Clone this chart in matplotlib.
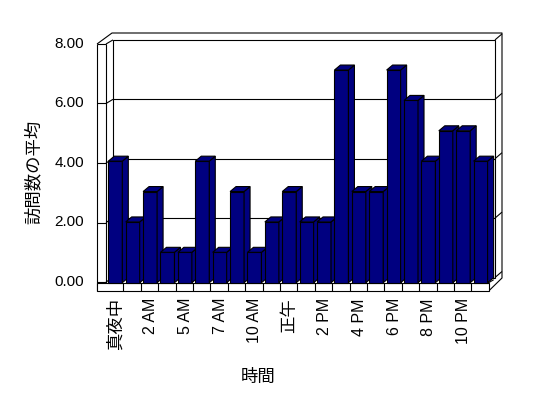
import matplotlib.pyplot as plt
from matplotlib.patches import Polygon, Rectangle

# 時間帯ごとの訪問数の平均
hours = ["真夜中", "1 AM", "2 AM", "4 AM", "5 AM", "6 AM", "7 AM", "9 AM",
         "10 AM", "11 AM", "正午", "1 PM", "2 PM", "3 PM", "4 PM", "5 PM",
         "6 PM", "7 PM", "8 PM", "9 PM", "10 PM", "11 PM"]
visits = [4, 2, 3, 1, 1, 4, 1, 3, 1, 2, 3, 2, 2, 7, 3, 3, 7, 6, 4, 5, 5, 4]
yticks = [0, 2, 4, 6, 8]

W, H = 548, 398
X0, SLOT = 106, 17.395      # left edge of the first category, px per category
Y0, UNIT = 282.7, 30.38     # baseline, px per unit (front plane of the bars)
navy = "#000080"
lw = 0.8

fig = plt.figure(figsize=(W / 100, H / 100), dpi=100)
n = len(visits)
ax = fig.add_axes([X0 / W, (H - Y0) / H, n * SLOT / W, 8 * UNIT / H])
ax.set_xlim(0, n)
ax.set_ylim(0, 8)
ax.axis("off")


def px_x(p):
    return (p - X0) / SLOT


def px_y(p):
    return (Y0 - p) / UNIT


def front(v):   # left wall front edge scale
    return px_y(282 - 29.75 * v)


def back(v):    # back wall scale
    return px_y(277.5 - 29.7 * v)


def line(xs, ys, z=1):
    ax.plot(xs, ys, color="black", lw=lw, clip_on=False, zorder=z,
            solid_capstyle="butt")


xo, xi, xb = px_x(97), px_x(106), px_x(113)
xr, xro = px_x(495), px_x(502)
top_o = px_y(33)
floor_bot = px_y(291)

# back wall with gridlines
ax.add_patch(Rectangle((xb, back(0)), xr - xb, back(8) - back(0), fc="white",
                       ec="black", lw=lw, clip_on=False, zorder=0.5))
for v in yticks[1:-1]:
    line([xb, xr], [back(v), back(v)])

# wall thickness: top and right side
line([xo, px_x(112), xro, xro, n], [front(8), top_o, top_o, px_y(278), floor_bot])
for v in yticks:
    line([xr, xro], [back(v), back(v) + 6 / UNIT])

# left wall
line([xo, xo], [front(8), floor_bot])
line([xi, xi], [front(8), 0])
for v in yticks:
    line([xo, xi], [front(v), front(v)])
    line([xi, xb], [front(v), back(v)])

# floor front face with category cells
ax.add_patch(Rectangle((xo, floor_bot), n - xo, -floor_bot, fc="white",
                       ec="black", lw=lw, clip_on=False, zorder=1))
for k in range(1, n):
    line([k, k], [floor_bot, 0], z=1.1)
line([n, n + 5 / SLOT], [0, 3 / UNIT], z=1.1)

# bars: front, side and top faces
off = px_x(108.3)
bw = 14 / SLOT
ddx, ddy = 6 / SLOT, 5 / UNIT
for k, v in enumerate(visits):
    x = k + off
    z = 2 + k * 0.01
    ax.add_patch(Rectangle((x, 0), bw, v, fc=navy, ec="black", lw=lw,
                           clip_on=False, zorder=z))
    ax.add_patch(Polygon([(x + bw, 0), (x + bw + ddx, ddy), (x + bw + ddx, v + ddy),
                          (x + bw, v)], fc=navy, ec="black", lw=lw,
                         clip_on=False, zorder=z))
    ax.add_patch(Polygon([(x, v), (x + bw, v), (x + bw + ddx, v + ddy),
                          (x + ddx, v + ddy)], fc=navy, ec="black", lw=lw,
                         clip_on=False, zorder=z))

fams = ["Liberation Sans", "Noto Sans CJK JP"]

# y tick labels
for v in yticks:
    ax.text(px_x(84), front(v), f"{v:.2f}", ha="right", va="center",
            fontsize=11, family=fams)

# category labels, every other one
for k in range(0, n, 2):
    lab = hours[k]
    size = 11.5 if lab.isascii() else 12.5
    ax.text(k + 0.5 + 1 / SLOT, px_y(298), lab, rotation=90, ha="center",
            va="top", fontsize=size, family=fams)

fig.text(33 / W, 1 - 172 / H, "訪問数の平均", rotation=90, ha="center",
         va="center", fontsize=12.5, family=fams)
fig.text(258 / W, 1 - 377 / H, "時間", ha="center", va="center",
         fontsize=12.5, family=fams)

fig.savefig("out.png", dpi=100, facecolor="white")
